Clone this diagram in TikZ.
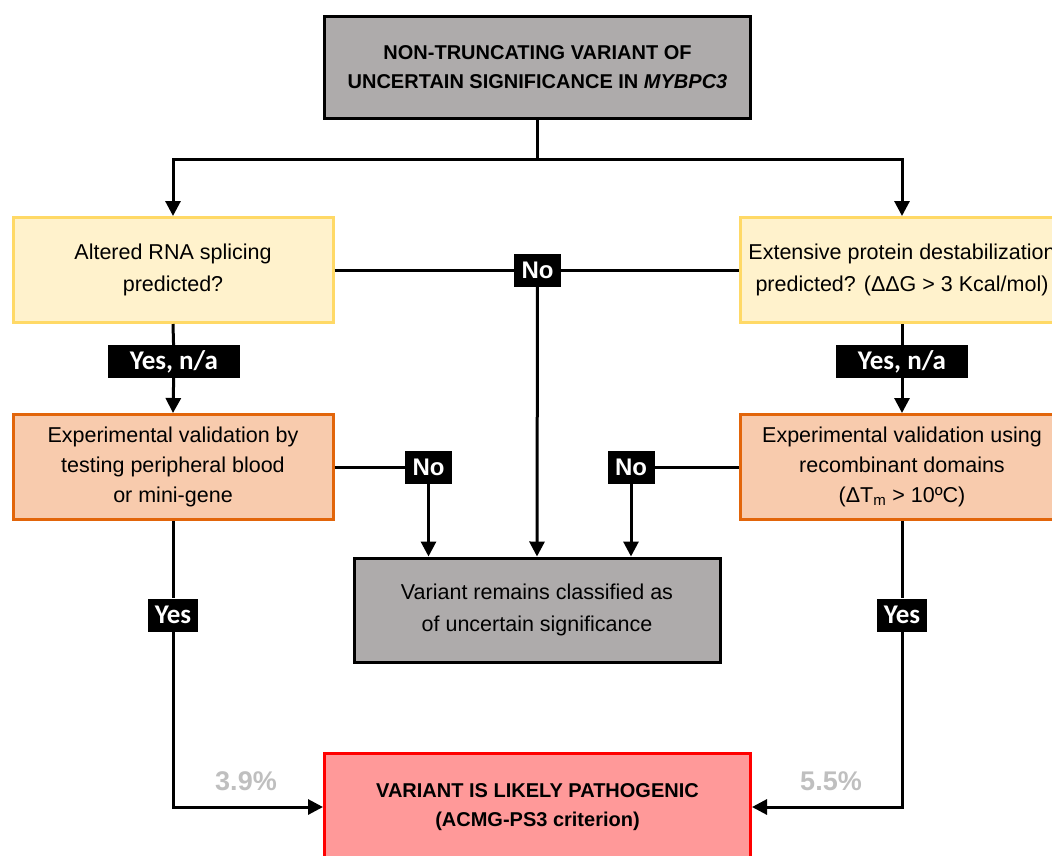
\documentclass[tikz,border=0pt]{standalone}
\usepackage{fontspec}
\setmainfont{Liberation Sans}
\newfontfamily\labelfont{Carlito}
\usetikzlibrary{arrows.meta}
\definecolor{boxgray}{HTML}{AEABAB}
\definecolor{qfill}{HTML}{FFF2CC}
\definecolor{qdraw}{HTML}{FFD966}
\definecolor{efill}{HTML}{F8CBAD}
\definecolor{edraw}{HTML}{E2650A}
\definecolor{lpfill}{HTML}{FF9999}
\definecolor{pctgray}{HTML}{BFBFBF}
\tikzstyle{startstop} = [rectangle, minimum width=426pt, minimum height=102pt, align=center, draw=black, line width=3pt, fill=boxgray, font=\bfseries\fontsize{20}{29}\selectfont]
\tikzstyle{question} = [rectangle, minimum width=320pt, minimum height=105pt, align=center, draw=qdraw, line width=3pt, fill=qfill, font=\fontsize{21.5}{32}\selectfont]
\tikzstyle{experiment} = [rectangle, minimum width=320pt, minimum height=105pt, align=center, draw=edraw, line width=3pt, fill=efill, font=\fontsize{21.5}{30}\selectfont]
\tikzstyle{outcome} = [rectangle, minimum width=366pt, minimum height=104pt, align=center, draw=black, line width=3pt, fill=boxgray, font=\fontsize{21.5}{32}\selectfont]
\tikzstyle{result} = [rectangle, minimum width=426pt, minimum height=108pt, align=center, draw=red, line width=3pt, fill=lpfill, font=\bfseries\fontsize{20}{29}\selectfont]
\tikzstyle{answer} = [rectangle, fill=black, text=white, inner sep=0pt, minimum height=33pt, font=\labelfont\bfseries\fontsize{27}{27}\selectfont]
\tikzstyle{noanswer} = [answer, minimum width=47pt, font=\bfseries\fontsize{24}{24}\selectfont]
\tikzstyle{percent} = [text=pctgray, font=\bfseries\fontsize{27}{27}\selectfont]
\tikzstyle{line} = [line width=3pt]
\tikzstyle{arrow} = [line width=3pt, -{Triangle[length=15pt,width=15pt]}]

\begin{document}
\begin{tikzpicture}[x=1pt, y=-1pt]
\useasboundingbox (0,0) rectangle (1052,855);
\node (start) [startstop] at (537.5,67.5) {NON-TRUNCATING VARIANT OF\\UNCERTAIN SIGNIFICANCE IN \textit{MYBPC3}};
\coordinate (split) at (537.5,159);
\node (splice) [question] at (173,270) {Altered RNA splicing\\predicted?};
\node (destab) [question, minimum width=324pt] at (902,270) {Extensive protein destabilization\\predicted? (ΔΔG > 3 Kcal/mol)};
\node (nomid) [noanswer] at (537.5,270) {No};
\node (yesna1) [answer, minimum width=132pt] at (174,361.5) {Yes, n/a};
\node (yesna2) [answer, minimum width=132pt] at (902,361.5) {Yes, n/a};
\node (blood) [experiment] at (173,467) {Experimental validation by\\testing peripheral blood\\or mini-gene};
\node (domains) [experiment, minimum width=324pt] at (902,467) {Experimental validation using\\recombinant domains\\(ΔT\textsubscript{m} > 10ºC)};
\node (noleft) [noanswer] at (428.5,467) {No};
\node (noright) [noanswer] at (631,467) {No};
\node (vus) [outcome] at (537,610) {Variant remains classified as\\of uncertain significance};
\node (yes1) [answer, minimum width=50pt] at (173,615) {Yes};
\node (yes2) [answer, minimum width=50pt] at (902,615) {Yes};
\node (lp) [result] at (537.5,807) {VARIANT IS LIKELY PATHOGENIC\\(ACMG-PS3 criterion)};
\node (pct1) [percent] at (246,781) {3.9\%};
\node (pct2) [percent] at (831,781) {5.5\%};

\draw [line] (start.south) -- (split);
\draw [arrow] (split) -| (splice.north);
\draw [arrow] (split) -| (destab.north);
\draw [line] (splice.east) -- (nomid);
\draw [line] (destab.west) -- (nomid);
\draw [arrow] (nomid) -- (vus.north);
\draw [line] (splice.south) -- (yesna1);
\draw [arrow] (yesna1) -- (blood.north);
\draw [line] (destab.south) -- (yesna2);
\draw [arrow] (yesna2) -- (domains.north);
\draw [line] (blood.east) -- (noleft);
\draw [arrow] (noleft) -- (noleft |- vus.north);
\draw [line] (domains.west) -- (noright);
\draw [arrow] (noright) -- (noright |- vus.north);
\draw [line] (blood.south) -- (yes1);
\draw [arrow] (yes1) |- (lp.west);
\draw [line] (domains.south) -- (yes2);
\draw [arrow] (yes2) |- (lp.east);
\end{tikzpicture}
\end{document}
